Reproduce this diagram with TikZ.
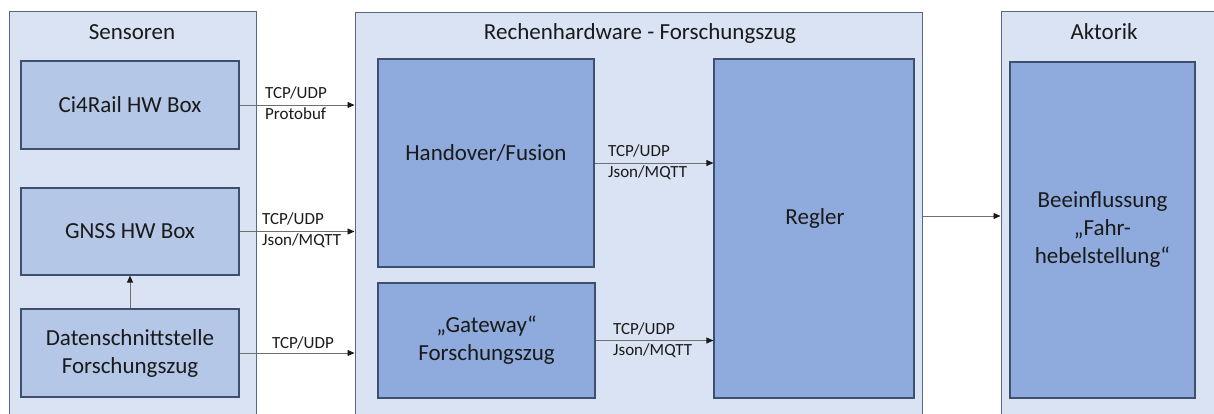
\documentclass[tikz,border=0pt]{standalone}
\usepackage{fontspec}
\setmainfont{Carlito}
\usetikzlibrary{arrows.meta,positioning}
\definecolor{outerfill}{HTML}{DAE3F3}
\definecolor{outerdraw}{HTML}{56677F}
\definecolor{sensfill}{HTML}{B4C7E7}
\definecolor{procfill}{HTML}{8FAADC}
\definecolor{innerdraw}{HTML}{3E5070}
\definecolor{txt}{HTML}{1A1A1A}
\definecolor{arrowgray}{HTML}{6F6F6F}
\tikzset{
  group/.style={draw=outerdraw, fill=outerfill, line width=1pt, inner sep=0pt},
  sensbox/.style={draw=innerdraw, fill=sensfill, line width=1.2pt, inner sep=0pt, align=center,
    text=txt, font=\fontsize{23}{28}\selectfont},
  procbox/.style={draw=innerdraw, fill=procfill, line width=1.2pt, inner sep=0pt, align=center,
    text=txt, font=\fontsize{23}{28}\selectfont},
  bigtext/.style={text=txt, inner sep=0pt, align=center, font=\fontsize{23}{28}\selectfont},
  lbl/.style={text=txt, inner sep=0pt, align=left, anchor=west, font=\fontsize{17}{21}\selectfont},
  conn/.style={draw=arrowgray, line width=0.9pt, -{Triangle[length=7pt,width=6pt,color=txt]}}
}
\begin{document}
\begin{tikzpicture}[x=1pt,y=-1pt]
\useasboundingbox (0,0) rectangle (1214,414);
\clip (0,0) rectangle (1214,414);
% groups
\node[group, minimum width=247pt, minimum height=420pt] (sens) at (132.5,222) {};
\node[group, minimum width=567pt, minimum height=420pt] (rech) at (638.5,223) {};
\node[group, minimum width=229pt, minimum height=420pt] (akto) at (1115.5,222) {};
\node[bigtext] (senst) at (132,32) {Sensoren};
\node[bigtext] (recht) at (640,33) {Rechenhardware - Forschungszug};
\node[bigtext] (aktot) at (1104,32) {Aktorik};
% sensor boxes
\node[sensbox, minimum width=218pt, minimum height=88pt] (ci) at (130,105) {Ci4Rail HW Box};
\node[sensbox, minimum width=218pt, minimum height=87pt] (gnss) at (130,231.5) {GNSS HW Box};
\node[sensbox, minimum width=218pt, minimum height=88pt] (dat) at (130,353) {Datenschnittstelle\\Forschungszug};
% processing boxes
\node[procbox, minimum width=216pt, minimum height=208pt] (hand) at (486,163) {};
\node[bigtext] (handt) at (486,153) {Handover/Fusion};
\node[procbox, minimum width=217pt, minimum height=115pt] (gate) at (486.5,340.5) {„Gateway“\\Forschungszug};
\node[procbox, minimum width=200pt, minimum height=339pt] (regl) at (814,228.5) {};
\node[bigtext] (reglt) at (815,218) {Regler};
\node[procbox, minimum width=185pt, minimum height=336pt] (akt) at (1102.5,230) {Beeinflussung\\„Fahr-\\hebelstellung“};
% connectors
\draw[conn] (ci.east) -- (ci.east -| rech.west);
\draw[conn] (gnss.east) -- (gnss.east -| rech.west);
\draw[conn] (dat.east) -- (dat.east -| rech.west);
\draw[conn] (dat.north) -- (gnss.south);
\draw[conn] (hand.east) -- (hand.east -| regl.west);
\draw[conn] (gate.east) -- (gate.east -| regl.west);
\coordinate (rout) at (rech.east |- 0,216);
\draw[conn] (rout) -- (rout -| akto.west);
% labels
\node[lbl] (l1) at (265,103.5) {TCP/UDP\\Protobuf};
\node[lbl] (l2) at (262,230.5) {TCP/UDP\\Json/MQTT};
\node[lbl] (l3) at (272,343) {TCP/UDP};
\node[lbl] (l4) at (608,162) {TCP/UDP\\Json/MQTT};
\node[lbl] (l5) at (613,340) {TCP/UDP\\Json/MQTT};
\end{tikzpicture}
\end{document}
